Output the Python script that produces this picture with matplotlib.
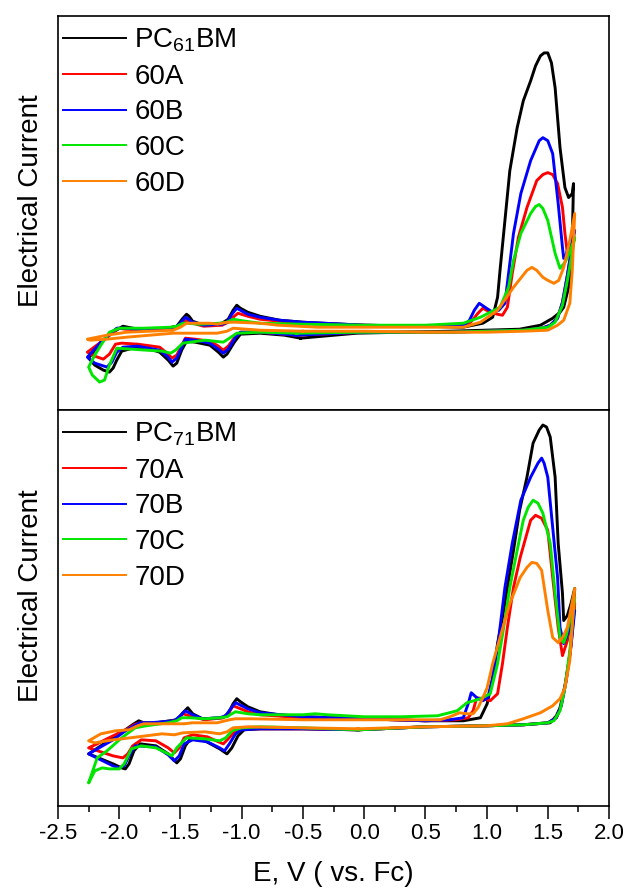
import matplotlib
matplotlib.use('Agg')
import matplotlib.pyplot as plt
from matplotlib.ticker import MultipleLocator

# cyclic voltammograms, (E in V vs Fc, current in arbitrary units)
pc61 = [(-0.52, -8), (-0.06, -3), (0.70, -1), (1.27, 1), (1.44, 5), (1.54, 12), (1.60, 18), (1.63, 23), (1.67, 43),
        (1.69, 65), (1.70, 90), (1.71, 147),
        (1.70, 137), (1.67, 133), (1.64, 143), (1.60, 183), (1.56, 243), (1.53, 268), (1.50, 278), (1.47, 278),
        (1.44, 275), (1.40, 265), (1.36, 250), (1.30, 230), (1.25, 203), (1.19, 160), (1.15, 110), (1.11, 60),
        (1.09, 33), (1.05, 13), (0.97, 7), (0.81, 3),
        (0.50, 4), (0.00, 5), (-0.50, 8), (-0.69, 10), (-0.85, 14), (-0.95, 18), (-1.01, 22), (-1.04, 25), (-1.07, 20),
        (-1.11, 11), (-1.16, 7), (-1.31, 5), (-1.40, 9), (-1.43, 14), (-1.45, 16), (-1.48, 12), (-1.53, 4),
        (-1.65, 1), (-1.80, 0), (-1.93, 3), (-1.97, 4), (-2.01, 1), (-2.05, -2), (-2.15, -12), (-2.25, -28),
        (-2.20, -35), (-2.13, -40), (-2.08, -42), (-2.05, -38), (-2.02, -30), (-1.98, -21), (-1.89, -18),
        (-1.75, -19), (-1.67, -22), (-1.60, -30), (-1.56, -36), (-1.53, -33), (-1.49, -20), (-1.45, -11),
        (-1.38, -12), (-1.26, -15), (-1.19, -22), (-1.15, -27), (-1.12, -24), (-1.06, -12), (-1.01, -4),
        (-0.85, -3), (-0.65, -5), (-0.52, -8)]

a60 = [(-0.55, -5), (0.00, -2), (0.70, -2), (1.30, 0), (1.45, 2), (1.52, 5), (1.58, 12), (1.62, 28), (1.66, 55),
       (1.69, 78), (1.71, 95),
       (1.69, 85), (1.66, 77), (1.64, 97), (1.62, 123), (1.58, 147), (1.54, 156), (1.50, 158), (1.46, 156),
       (1.41, 150), (1.33, 123), (1.26, 93), (1.21, 57), (1.17, 23), (1.13, 15), (1.09, 16), (1.03, 18),
       (0.97, 22), (0.93, 17), (0.87, 8), (0.82, 4),
       (0.50, 4), (0.00, 5), (-0.50, 7), (-0.69, 9), (-0.85, 11), (-0.95, 14), (-1.03, 17), (-1.07, 13),
       (-1.11, 8), (-1.16, 5), (-1.31, 4), (-1.40, 7), (-1.45, 10), (-1.49, 7), (-1.54, 2), (-1.80, 0),
       (-1.95, 1), (-2.01, 2), (-2.06, -3), (-2.15, -12), (-2.26, -22),
       (-2.20, -26), (-2.13, -29), (-2.08, -24), (-2.03, -14), (-1.98, -13), (-1.85, -14), (-1.67, -17),
       (-1.60, -24), (-1.57, -28), (-1.53, -25), (-1.46, -8), (-1.38, -9), (-1.26, -11), (-1.19, -16),
       (-1.15, -20), (-1.11, -16), (-1.05, -6), (-1.01, -2), (-0.85, -2), (-0.55, -5)]

b60 = [(-0.55, -5), (0.00, -2), (0.70, -2), (1.30, 0), (1.45, 2), (1.52, 5), (1.58, 12), (1.62, 28), (1.66, 55),
       (1.69, 78), (1.72, 100),
       (1.68, 88), (1.65, 76), (1.63, 72), (1.62, 83), (1.585, 127), (1.54, 177), (1.50, 190), (1.46, 193),
       (1.43, 190), (1.36, 170), (1.28, 137), (1.22, 97), (1.18, 57), (1.15, 27), (1.10, 20), (1.05, 18),
       (1.00, 22), (0.94, 27), (0.90, 20), (0.86, 10), (0.82, 5),
       (0.50, 4), (0.00, 5), (-0.50, 8), (-0.69, 10), (-0.85, 13), (-0.95, 16), (-1.04, 22), (-1.08, 16),
       (-1.12, 8), (-1.16, 6), (-1.31, 5), (-1.40, 8), (-1.46, 13), (-1.50, 7), (-1.55, 2), (-1.80, 0),
       (-1.95, 2), (-2.02, 2), (-2.06, -2), (-2.15, -12), (-2.26, -27),
       (-2.20, -33), (-2.10, -37), (-2.06, -32), (-2.02, -22), (-1.97, -17), (-1.85, -16), (-1.67, -20),
       (-1.60, -27), (-1.57, -32), (-1.53, -28), (-1.46, -9), (-1.38, -10), (-1.26, -13), (-1.19, -19),
       (-1.15, -23), (-1.11, -19), (-1.05, -7), (-1.01, -2), (-0.85, -2), (-0.55, -5)]

c60 = [(-0.55, -3), (0.00, -2), (0.70, -2), (1.30, 0), (1.50, 3), (1.56, 8), (1.62, 25), (1.66, 50), (1.70, 78),
       (1.72, 93),
       (1.68, 78), (1.64, 68), (1.60, 62), (1.56, 77), (1.50, 110), (1.46, 122), (1.43, 126), (1.40, 124),
       (1.36, 117), (1.28, 97), (1.22, 70), (1.18, 43), (1.11, 23), (0.95, 13), (0.81, 7),
       (0.50, 5), (0.00, 5), (-0.50, 6), (-0.85, 7), (-0.97, 9), (-1.07, 11), (-1.12, 8), (-1.18, 7),
       (-1.35, 6), (-1.45, 7), (-1.48, 7), (-1.53, 4), (-1.58, 3), (-1.80, 2), (-2.00, 2), (-2.08, -2),
       (-2.15, -15), (-2.20, -25), (-2.25, -37),
       (-2.22, -45), (-2.16, -52), (-2.12, -50), (-2.08, -35), (-2.02, -18), (-1.90, -19), (-1.78, -20),
       (-1.65, -21), (-1.58, -23), (-1.54, -20), (-1.48, -13), (-1.30, -10), (-1.15, -12), (-1.10, -8),
       (-1.04, -3), (-0.85, -2), (-0.55, -3)]

d60 = [(-0.50, -1), (0.00, -1), (0.50, -2), (1.00, -2), (1.30, -1), (1.50, 0), (1.58, 5), (1.63, 10), (1.68, 27),
       (1.70, 60), (1.72, 117),
       (1.68, 90), (1.63, 63), (1.59, 50), (1.55, 47), (1.50, 50), (1.46, 53), (1.41, 60), (1.37, 63),
       (1.33, 60), (1.22, 43), (1.09, 20), (0.95, 8), (0.81, 3),
       (0.50, 3), (0.00, 3), (-0.38, 3), (-0.70, 5), (-0.85, 7), (-1.05, 8), (-1.12, 8), (-1.20, 6), (-1.26, 7),
       (-1.40, 7), (-1.45, 7), (-1.50, 3), (-1.56, 0), (-1.75, -1), (-1.94, -2), (-2.10, -5), (-2.26, -9),
       (-2.24, -10), (-2.10, -9), (-1.94, -7), (-1.75, -5), (-1.56, -3), (-1.20, -3), (-1.12, -1), (-1.07, 2),
       (-0.85, 0), (-0.50, -1)]

pc71 = [(-0.05, -4), (0.50, -1), (1.00, 0), (1.30, 1), (1.52, 3), (1.57, 10), (1.60, 18), (1.64, 40), (1.68, 70),
        (1.71, 110), (1.72, 137),
        (1.69, 122), (1.66, 110), (1.63, 105), (1.62, 132), (1.585, 182), (1.56, 248), (1.52, 288), (1.49, 298),
        (1.46, 300), (1.43, 295), (1.38, 282), (1.33, 248), (1.27, 215), (1.22, 175), (1.17, 138), (1.13, 108),
        (1.09, 82), (1.05, 48), (1.005, 22), (0.95, 8), (0.81, 5),
        (0.50, 5), (0.00, 7), (-0.50, 9), (-0.70, 11), (-0.85, 14), (-0.95, 19), (-1.01, 24), (-1.04, 27),
        (-1.07, 22), (-1.11, 12), (-1.16, 8), (-1.32, 7), (-1.40, 12), (-1.44, 18), (-1.48, 13), (-1.53, 6),
        (-1.70, 3), (-1.80, 3), (-1.84, 5), (-1.88, 2), (-1.95, -4), (-2.05, -12), (-2.15, -20), (-2.25, -28),
        (-2.15, -33), (-2.05, -38), (-1.98, -42), (-1.95, -43), (-1.92, -38), (-1.88, -25), (-1.83, -18),
        (-1.70, -20), (-1.60, -28), (-1.53, -37), (-1.50, -33), (-1.46, -20), (-1.42, -13), (-1.30, -15),
        (-1.18, -23), (-1.12, -28), (-1.08, -22), (-1.03, -10), (-0.98, -4), (-0.85, -3), (-0.50, -3),
        (-0.05, -4)]

a70 = [(-0.05, -4), (0.50, -1), (1.00, 0), (1.30, 1), (1.50, 3), (1.57, 8), (1.61, 20), (1.65, 45), (1.69, 80),
       (1.72, 122),
       (1.69, 105), (1.66, 85), (1.62, 70), (1.585, 98), (1.54, 148), (1.50, 195), (1.45, 207), (1.40, 210),
       (1.36, 205), (1.33, 192), (1.275, 168), (1.22, 138), (1.17, 98), (1.13, 62), (1.09, 32), (1.03, 25),
       (0.97, 27), (0.92, 28), (0.89, 15), (0.85, 8), (0.75, 6),
       (0.50, 5), (0.00, 7), (-0.50, 8), (-0.85, 11), (-0.95, 14), (-1.03, 18), (-1.07, 20), (-1.10, 14),
       (-1.15, 8), (-1.30, 6), (-1.40, 9), (-1.48, 12), (-1.52, 7), (-1.58, 4), (-1.75, 2), (-1.83, 3),
       (-1.88, 1), (-1.93, -3), (-2.00, -7), (-2.10, -13), (-2.18, -18), (-2.25, -22),
       (-2.15, -26), (-2.05, -30), (-1.97, -32), (-1.93, -28), (-1.89, -20), (-1.82, -14), (-1.70, -15),
       (-1.60, -22), (-1.55, -27), (-1.51, -22), (-1.47, -12), (-1.40, -9), (-1.28, -11), (-1.19, -16),
       (-1.15, -18), (-1.11, -13), (-1.05, -5), (-1.00, -3), (-0.85, -3), (-0.50, -3), (-0.05, -4)]

b70 = [(-0.05, -4), (0.50, -1), (1.00, 0), (1.30, 1), (1.50, 3), (1.57, 8), (1.61, 20), (1.65, 45), (1.69, 80),
       (1.72, 115),
       (1.68, 98), (1.65, 88), (1.63, 82), (1.60, 98), (1.58, 148), (1.54, 198), (1.50, 248), (1.47, 262),
       (1.45, 267), (1.42, 262), (1.36, 248), (1.28, 225), (1.21, 182), (1.15, 138), (1.10, 88), (1.05, 48),
       (1.01, 28), (0.97, 25), (0.92, 28), (0.875, 33), (0.85, 22), (0.81, 8), (0.70, 6),
       (0.50, 5), (0.00, 7), (-0.50, 9), (-0.85, 13), (-0.95, 17), (-1.05, 23), (-1.09, 17), (-1.13, 10),
       (-1.18, 8), (-1.32, 7), (-1.40, 11), (-1.46, 15), (-1.50, 10), (-1.55, 5), (-1.75, 3), (-1.83, 3),
       (-1.88, 0), (-1.96, -6), (-2.05, -14), (-2.15, -21), (-2.25, -28),
       (-2.15, -34), (-2.05, -40), (-2.00, -42), (-1.96, -40), (-1.92, -30), (-1.87, -20), (-1.70, -21),
       (-1.60, -29), (-1.55, -35), (-1.51, -30), (-1.47, -18), (-1.40, -14), (-1.28, -16), (-1.18, -22),
       (-1.14, -25), (-1.10, -18), (-1.05, -8), (-1.00, -4), (-0.85, -3), (-0.50, -3), (-0.05, -4)]

c70 = [(-0.05, -4), (0.50, -1), (1.00, 0), (1.30, 1), (1.50, 3), (1.55, 5), (1.60, 15), (1.64, 38), (1.68, 75),
       (1.72, 128),
       (1.68, 105), (1.65, 90), (1.63, 83), (1.60, 88), (1.56, 132), (1.52, 182), (1.46, 212), (1.42, 222),
       (1.38, 225), (1.34, 218), (1.30, 205), (1.25, 175), (1.19, 138), (1.14, 98), (1.09, 62), (1.03, 32),
       (0.95, 27), (0.84, 23), (0.76, 15), (0.60, 10),
       (0.30, 9), (0.00, 9), (-0.30, 11), (-0.40, 12), (-0.50, 11), (-0.85, 11), (-0.95, 12), (-1.05, 14),
       (-1.08, 12), (-1.12, 9), (-1.18, 8), (-1.30, 7), (-1.42, 8), (-1.49, 8), (-1.53, 5), (-1.60, 3),
       (-1.78, 0), (-1.87, -2), (-1.98, -12), (-2.10, -25), (-2.18, -32), (-2.25, -57),
       (-2.20, -45), (-2.14, -42), (-2.08, -43), (-2.00, -43), (-1.96, -38), (-1.90, -23), (-1.82, -20),
       (-1.70, -22), (-1.60, -28), (-1.57, -30), (-1.53, -22), (-1.45, -12), (-1.30, -13), (-1.18, -15),
       (-1.13, -12), (-1.08, -5), (-1.00, -2), (-0.85, -1), (-0.50, -2), (-0.05, -4)]

d70 = [(-0.05, -3), (0.50, -1), (1.00, 0), (1.17, 2), (1.30, 7), (1.44, 13), (1.54, 20), (1.60, 27), (1.64, 38),
       (1.68, 65), (1.70, 100), (1.72, 137),
       (1.66, 98), (1.62, 88), (1.585, 83), (1.54, 88), (1.50, 115), (1.45, 155), (1.41, 162), (1.37, 163),
       (1.33, 158), (1.275, 148), (1.19, 122), (1.11, 88), (1.05, 62), (1.005, 38), (0.97, 28), (0.93, 18),
       (0.89, 12), (0.84, 12), (0.78, 13), (0.70, 9), (0.62, 6),
       (0.50, 6), (0.00, 6), (-0.50, 6), (-0.93, 7), (-1.05, 7), (-1.10, 6), (-1.20, 3), (-1.40, 3), (-1.47, 2),
       (-1.65, 2), (-1.80, 2), (-1.85, 0), (-1.92, -4), (-2.03, -5), (-2.15, -8), (-2.25, -15),
       (-2.20, -17), (-2.05, -14), (-1.91, -12), (-1.65, -8), (-1.55, -9), (-1.48, -7), (-1.30, -6), (-1.18, -8),
       (-1.12, -6), (-1.07, -2), (-0.95, -1), (-0.50, -2), (-0.05, -3)]

labels_top = ['PC$_{61}$BM', '60A', '60B', '60C', '60D']
labels_bottom = ['PC$_{71}$BM', '70A', '70B', '70C', '70D']
colors = ['#000000', '#ff0000', '#0000ff', '#00e600', '#ff8000']

plt.rcParams['font.family'] = ['Liberation Sans', 'DejaVu Sans']
plt.rcParams['mathtext.fontset'] = 'custom'
plt.rcParams['mathtext.rm'] = 'Liberation Sans'
plt.rcParams['mathtext.it'] = 'Liberation Sans:italic'
plt.rcParams['mathtext.default'] = 'rm'
plt.rcParams['axes.unicode_minus'] = False


def draw_panel(ax, curves, labels):
    for pts, lab, col in zip(curves, labels, colors):
        e, i = zip(*pts)
        ax.plot(e, i, color=col, lw=2.1, label=lab, solid_joinstyle='round')
    ax.set_xlim(-2.5, 2.0)
    ax.set_ylim(-80, 315)
    ax.set_yticks([])
    ax.set_ylabel('Electrical Current', fontsize=20)
    ax.yaxis.set_label_coords(-0.025, 0.53)
    for s in ax.spines.values():
        s.set_linewidth(1.2)
    leg = ax.legend(frameon=False, loc='upper left', fontsize=20, handlelength=2.27,
                    handletextpad=0.3, labelspacing=0.35, borderaxespad=0, borderpad=0.18,
                    bbox_to_anchor=(0, 1 - 5.5 / 394))
    for h in leg.get_lines():
        h.set_linewidth(1.4)


fig = plt.figure(figsize=(6.27, 8.89), dpi=100)
ax1 = fig.add_axes([58 / 627, 1 - 410 / 889, 551 / 627, 394 / 889])
ax2 = fig.add_axes([58 / 627, 1 - 806 / 889, 551 / 627, 396 / 889])

draw_panel(ax1, [pc61, a60, b60, c60, d60], labels_top)
draw_panel(ax2, [pc71, a70, b70, c70, d70], labels_bottom)

ax1.set_xticks([])
ax2.xaxis.set_major_locator(MultipleLocator(0.5))
ax2.xaxis.set_minor_locator(MultipleLocator(0.25))
ax2.tick_params(which='major', direction='out', length=9, width=1.1, labelsize=16, top=False)
ax2.tick_params(which='minor', direction='out', length=4.5, width=1.1, top=False)
ax2.set_xlabel('E, V ( vs. Fc)', fontsize=20, labelpad=12)

fig.savefig('out.png', dpi=100)
